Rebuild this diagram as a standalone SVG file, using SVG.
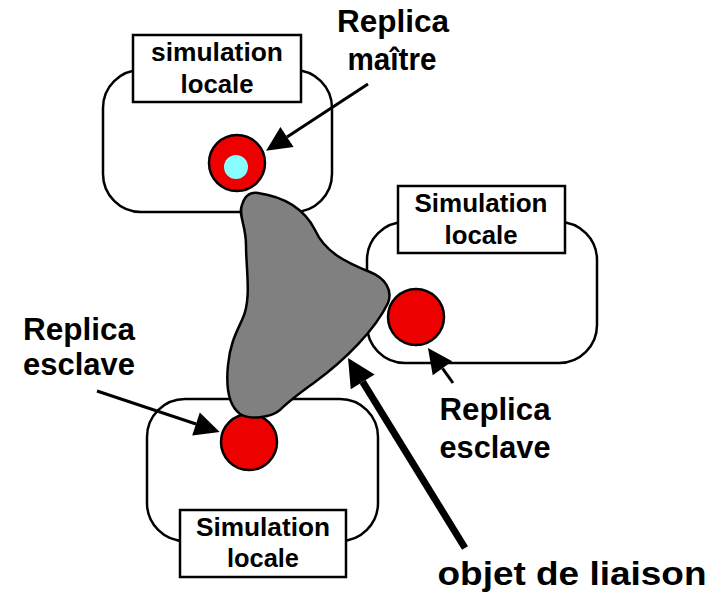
<svg xmlns="http://www.w3.org/2000/svg" width="719" height="596" viewBox="0 0 719 596">
<style>
.sim{fill:#fff;stroke:#000;stroke-width:2.5}
.lbl{fill:#fff;stroke:#000;stroke-width:2.5}
.t{font-family:"Liberation Sans",Arial,sans-serif;font-weight:bold;fill:#000;text-anchor:middle}
.bt{font-size:25px}
.ct{font-size:31px}
.red{fill:#ee0000;stroke:#000;stroke-width:2.5}
.blob{fill:#808080;stroke:#000;stroke-width:2.5}
.ar{stroke:#000;stroke-width:3;fill:none}
.art{stroke:#000;stroke-width:7;fill:none}
</style>
<defs>
<marker id="ah" markerUnits="userSpaceOnUse" orient="auto" refX="0" refY="0" markerWidth="30" markerHeight="30" overflow="visible">
<path d="M0,-12 L25,0 L0,12 Z" fill="#000"/>
</marker>
<marker id="ahT" markerUnits="userSpaceOnUse" orient="auto" refX="0" refY="0" markerWidth="32" markerHeight="32" overflow="visible">
<path d="M0,-14 L28,0 L0,14 Z" fill="#000"/>
</marker>
</defs>

<g id="sim-top">
<rect class="sim" x="103" y="70" width="229" height="142" rx="38"/>
<rect class="lbl" x="133" y="35" width="168" height="67"/>
<text class="t bt" x="217" y="61" textLength="132" lengthAdjust="spacingAndGlyphs">simulation</text>
<text class="t bt" x="217" y="93" textLength="73" lengthAdjust="spacingAndGlyphs">locale</text>
</g>

<g id="sim-right">
<rect class="sim" x="367" y="222" width="230" height="141" rx="38"/>
<rect class="lbl" x="398" y="186" width="167" height="67"/>
<text class="t bt" x="481" y="212" textLength="133" lengthAdjust="spacingAndGlyphs">Simulation</text>
<text class="t bt" x="481" y="244" textLength="73" lengthAdjust="spacingAndGlyphs">locale</text>
</g>

<g id="sim-bottom">
<rect class="sim" x="147" y="399" width="231" height="142" rx="38"/>
<rect class="lbl" x="180" y="510" width="166" height="67"/>
<text class="t bt" x="263" y="536" textLength="134" lengthAdjust="spacingAndGlyphs">Simulation</text>
<text class="t bt" x="263" y="567" textLength="72" lengthAdjust="spacingAndGlyphs">locale</text>
</g>

<g id="replica-master">
<circle class="red" cx="237" cy="163" r="28"/>
<circle cx="236" cy="167" r="12" fill="#88ffff"/>
</g>

<g id="replica-slave-bottom">
<circle class="red" cx="249" cy="442" r="28"/>
</g>

<g id="objet-liaison">
<path class="blob" d="M242,205 C245,195 250,192 258,193 C285,197 305,210 315,230 C325,252 345,262 370,272 C385,278 393,290 388,303 C375,330 345,360 315,382 C300,393 290,400 280,410 C270,418 250,420 240,414 C228,405 226,385 228,365 C230,345 235,335 242,320 C252,300 246,270 246,245 C246,225 238,215 242,205 Z"/>
</g>

<g id="replica-slave-right">
<circle class="red" cx="416" cy="317" r="28"/>
</g>

<g id="labels">
<text class="t ct" x="393" y="32" textLength="112" lengthAdjust="spacingAndGlyphs">Replica</text>
<text class="t ct" x="392" y="70" textLength="89" lengthAdjust="spacingAndGlyphs">maître</text>
<text class="t ct" x="79" y="340" textLength="112" lengthAdjust="spacingAndGlyphs">Replica</text>
<text class="t ct" x="79" y="375" textLength="112" lengthAdjust="spacingAndGlyphs">esclave</text>
<text class="t ct" x="495" y="420" textLength="111" lengthAdjust="spacingAndGlyphs">Replica</text>
<text class="t ct" x="495" y="458" textLength="111" lengthAdjust="spacingAndGlyphs">esclave</text>
<text class="t" style="font-size:34px" x="572" y="585" textLength="269" lengthAdjust="spacingAndGlyphs">objet de liaison</text>
</g>

<g id="connectors">
<line class="ar" x1="368" y1="84" x2="287" y2="137" marker-end="url(#ah)"/>
<line class="ar" x1="97" y1="391" x2="196" y2="424" marker-end="url(#ah)"/>
<line class="ar" x1="453" y1="383" x2="442.5" y2="368.3" marker-end="url(#ah)"/>
<line class="art" x1="465" y1="548" x2="362.7" y2="381.9" marker-end="url(#ahT)"/>
</g>
</svg>
